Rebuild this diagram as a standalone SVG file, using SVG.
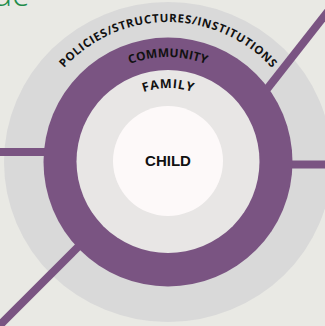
<svg xmlns="http://www.w3.org/2000/svg" width="325" height="326" viewBox="0 0 325 326">
<style>
.bg{fill:#e9e9e4}
.outer{fill:#d9d9d9}
.ring{fill:#7a5482}
.family{fill:#e8e6e5}
.child{fill:#fdf9f9}
.conn{stroke:#7a5482;stroke-width:8;fill:none}
.arc{font-family:"Open Sans","Liberation Sans",sans-serif;font-weight:700;fill:#111}
.title{font-family:"Open Sans","Liberation Sans",sans-serif;font-weight:300;font-size:34px;fill:#1e8c4a}
</style>
<defs>
<path id="pPol" d="M28,162 A140,140 0 0 1 308,162"/>
<path id="pCom" d="M63,162 A105,105 0 0 1 273,162"/>
<path id="pFam" d="M94,162 A74,74 0 0 1 242,162"/>
</defs>
<rect class="bg" x="0" y="0" width="325" height="326"/>
<text class="title" x="-6" y="6">ac</text>
<g id="policies">
<ellipse class="outer" cx="168" cy="162" rx="164" ry="160"/>
</g>
<g id="connectors">
<line class="conn" x1="0" y1="152" x2="60" y2="152"/>
<line class="conn" x1="280" y1="164.5" x2="325" y2="164.5"/>
<line class="conn" x1="260" y1="98" x2="340" y2="-4"/>
<line class="conn" x1="90" y1="235" x2="-5" y2="330"/>
</g>
<g id="community">
<circle class="ring" cx="168" cy="162" r="124.5"/>
</g>
<g id="family">
<circle class="family" cx="168" cy="161.5" r="91.5"/>
</g>
<g id="child">
<circle class="child" cx="168" cy="161" r="55"/>
<text x="168" y="166" text-anchor="middle" font-family="Liberation Sans, Arial, sans-serif" font-weight="700" font-size="15" fill="#111">CHILD</text>
</g>
<text class="arc" font-size="11.5"><textPath href="#pPol" startOffset="50%" text-anchor="middle" textLength="234" lengthAdjust="spacing">POLICIES/STRUCTURES/INSTITUTIONS</textPath></text>
<text class="arc" font-size="12"><textPath href="#pCom" startOffset="50%" text-anchor="middle" textLength="78" lengthAdjust="spacing">COMMUNITY</textPath></text>
<text class="arc" font-size="12.5"><textPath href="#pFam" startOffset="50%" text-anchor="middle" textLength="50" lengthAdjust="spacing">FAMILY</textPath></text>
</svg>
